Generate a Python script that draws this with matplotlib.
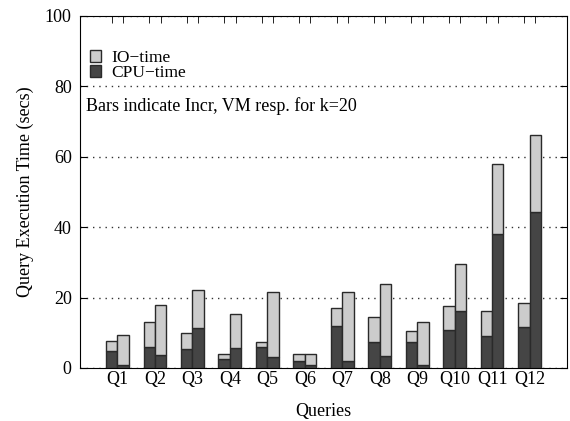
import matplotlib
matplotlib.use("Agg")
import matplotlib.pyplot as plt
import numpy as np
from matplotlib.patches import Patch

plt.rcParams['font.family'] = ['Liberation Serif', 'DejaVu Serif']
plt.rcParams['font.size'] = 13

queries = ['Q1', 'Q2', 'Q3', 'Q4', 'Q5', 'Q6', 'Q7', 'Q8', 'Q9', 'Q10', 'Q11', 'Q12']
incr_cpu = [4.8, 6.0, 5.5, 2.6, 6.0, 2.1, 12.0, 7.5, 7.4, 10.7, 9.1, 11.6]
incr_total = [7.6, 13.0, 9.9, 4.0, 7.4, 3.9, 17.0, 14.5, 10.6, 17.6, 16.1, 18.5]
vm_cpu = [0.9, 3.7, 11.3, 5.8, 3.1, 0.9, 2.1, 3.4, 0.9, 16.2, 38.0, 44.2]
vm_total = [9.3, 17.8, 22.2, 15.4, 21.5, 4.1, 21.5, 24.0, 13.0, 29.5, 58.0, 66.1]

incr_io = np.array(incr_total) - np.array(incr_cpu)
vm_io = np.array(vm_total) - np.array(vm_cpu)

dark = '#454545'
light = '#cccccc'
edge = '#2a2a2a'

fig = plt.figure(figsize=(5.7, 4.21), dpi=100)
ax = fig.add_axes([0.1404, 0.1259, 0.8543, 0.8361])

x = np.arange(1, len(queries) + 1)
w = 0.305
xi = x - w / 2
xv = x + w / 2

ax.bar(xi, incr_cpu, w, color=dark, edgecolor=edge, linewidth=1, zorder=3)
ax.bar(xi, incr_io, w, bottom=incr_cpu, color=light, edgecolor=edge, linewidth=1, zorder=3)
ax.bar(xv, vm_cpu, w, color=dark, edgecolor=edge, linewidth=1, zorder=3)
ax.bar(xv, vm_io, w, bottom=vm_cpu, color=light, edgecolor=edge, linewidth=1, zorder=3)

ax.set_xlim(0, 13)
ax.set_ylim(0, 100)
ax.set_yticks([0, 20, 40, 60, 80, 100])
ax.set_xticks(x)
ax.set_xticklabels(queries)
ax.tick_params(axis='x', length=0, pad=2)
ax.set_xticks(np.concatenate([xi, xv]), minor=True)
ax.tick_params(axis='x', which='minor', direction='in', top=True, bottom=True, length=5)
ax.tick_params(axis='y', direction='in', right=True, length=5, pad=6)
ax.yaxis.grid(True, linestyle=(0, (1, 3.5)), color='#333333', linewidth=1, zorder=0)

ax.set_ylabel('Query Execution Time (secs)', labelpad=8)
ax.set_xlabel('Queries', labelpad=11)

ax.text(0.15, 77, 'Bars indicate Incr, VM resp. for k=20', va='top', ha='left')

handles = [Patch(facecolor=light, edgecolor=edge, label='IO\u2212time'),
           Patch(facecolor=dark, edgecolor=edge, label='CPU\u2212time')]
ax.legend(handles=handles, loc='upper left', bbox_to_anchor=(-0.005, 0.938), frameon=False,
          fontsize=12.5, handlelength=0.65, handleheight=0.65, handletextpad=0.6,
          labelspacing=-0.05, borderaxespad=0.3)

fig.savefig('out.png', dpi=100)
